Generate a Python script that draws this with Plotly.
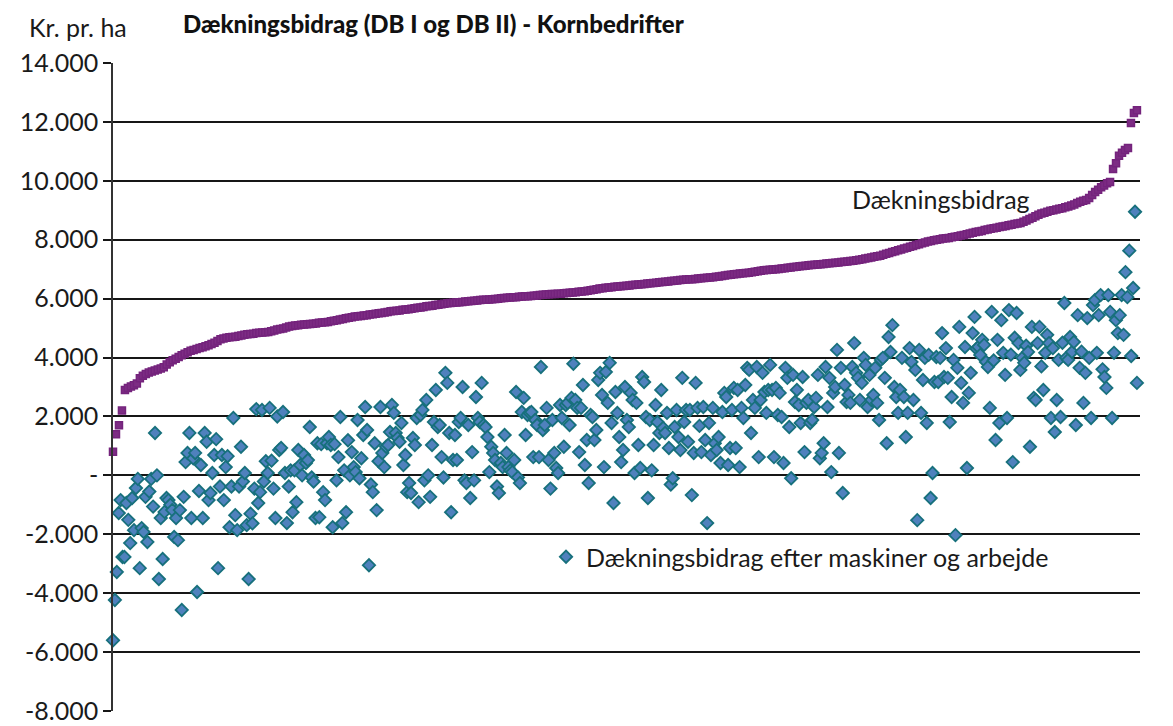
import plotly.graph_objects as go

# Y-axis ticks (kr. pr. ha)
tick_vals = [-8000, -6000, -4000, -2000, 0, 2000, 4000, 6000, 8000, 10000, 12000, 14000]
tick_text = ["-8.000", "-6.000", "-4.000", "-2.000", "-", "2.000", "4.000", "6.000",
             "8.000", "10.000", "12.000", "14.000"]

# Dækningsbidrag (DB I), farms sorted ascending
db1 = [800, 1400, 1700, 2200, 2900, 2970, 3020, 3060, 3120, 3300, 3380,
       3440, 3490, 3530, 3560, 3590, 3630, 3670, 3760, 3840, 3910,
       3960, 4020, 4080, 4130, 4180, 4230, 4260, 4290, 4320, 4350,
       4380, 4420, 4460, 4500, 4560, 4620, 4650, 4670, 4690, 4700,
       4710, 4730, 4750, 4770, 4790, 4800, 4810, 4830, 4840, 4850,
       4860, 4870, 4890, 4920, 4950, 4970, 4990, 5020, 5050, 5070,
       5090, 5100, 5110, 5120, 5130, 5140, 5150, 5160, 5180, 5190,
       5200, 5210, 5230, 5250, 5270, 5290, 5310, 5330, 5350, 5370,
       5390, 5400, 5410, 5430, 5440, 5460, 5470, 5490, 5500, 5510,
       5530, 5550, 5570, 5580, 5590, 5600, 5620, 5630, 5640, 5660,
       5670, 5690, 5700, 5720, 5740, 5750, 5760, 5780, 5790, 5810,
       5830, 5840, 5850, 5860, 5870, 5880, 5890, 5900, 5910, 5920,
       5930, 5940, 5950, 5960, 5960, 5970, 5980, 5990, 6000, 6010,
       6020, 6030, 6035, 6045, 6050, 6060, 6070, 6080, 6085, 6090,
       6100, 6110, 6120, 6130, 6140, 6150, 6155, 6160, 6165, 6170,
       6180, 6190, 6200, 6210, 6220, 6230, 6240, 6255, 6270, 6285,
       6300, 6320, 6340, 6355, 6370, 6380, 6390, 6400, 6410, 6420,
       6430, 6440, 6450, 6460, 6470, 6480, 6490, 6500, 6510, 6520,
       6530, 6540, 6555, 6565, 6575, 6585, 6595, 6605, 6615, 6630,
       6640, 6650, 6655, 6660, 6670, 6680, 6690, 6700, 6710, 6720,
       6730, 6740, 6755, 6770, 6785, 6800, 6815, 6830, 6840, 6850,
       6860, 6870, 6880, 6900, 6915, 6930, 6950, 6960, 6970, 6980,
       6990, 7000, 7010, 7020, 7030, 7045, 7060, 7070, 7085, 7100,
       7110, 7120, 7130, 7140, 7150, 7160, 7170, 7180, 7190, 7200,
       7210, 7220, 7230, 7240, 7250, 7265, 7280, 7290, 7300, 7320,
       7340, 7360, 7380, 7400, 7420, 7440, 7460, 7490, 7520, 7550,
       7580, 7610, 7640, 7670, 7700, 7730, 7760, 7790, 7820, 7850,
       7880, 7910, 7940, 7960, 7980, 8000, 8020, 8040, 8050, 8060,
       8080, 8100, 8120, 8140, 8160, 8190, 8210, 8240, 8260, 8280,
       8300, 8330, 8350, 8370, 8390, 8410, 8430, 8450, 8470, 8490,
       8510, 8530, 8550, 8570, 8610, 8650, 8700, 8750, 8800, 8850,
       8890, 8920, 8950, 8980, 9000, 9030, 9050, 9070, 9100, 9130,
       9160, 9200, 9250, 9290, 9320, 9350, 9420, 9520, 9620, 9700,
       9780, 9840, 9920, 9960, 10400, 10600, 10850, 10950, 11050, 11110,
       11960, 12300, 12400]

# Dækningsbidrag efter maskiner og arbejde (DB II), same farm order
db2 = [-5600, -4230, -3280, -1280, -840, -2770, -2770, -940, -1510, -2300,
       -770, -1860, -430, -120, -3150, -1790, -1920, -730, -2260, -550,
       -120, -1060, 1440, 0, -3520, -1450, -2840, -1240, -770, -840,
       -1000, -1180, -2090, -1450, -2200, -1180, -4570, -730, 450, 760, 1440,
       -1450, 580, 760, -3960, -530, 350, -1450, 1440, 1140, -840,
       -600, 80, 690, 1230, -3150, -380, 690, -840, 280, 650, -1760,
       -380, 1950, -1350, -1860, -380, 970, -210, 80, -1690, -3520,
       -1300, -1630, -450, 2250, -940, -570, 2220, -210, 480, 80, 2290,
       500, -450, -1450, 2000, 860,
       930, 2150, 80, -1620, -380, 170, -1250, 170, -910, 860,
       350, 0, 690, 420, 520, 1640, -70, -210, -1450, 1090,
       -1420, 1060, -570, -840, 1090, 1300, 1030, -1760, 1060, -170,
       620, 1980, -1620, 170, -1250, 1190, 0, 790, 280, 110,
       1880, -100, 580, 1370, 2320, 1540, -3050, -310, -570, 1090,
       -1180, 480, 2320, 760, 280, 970, 1030, 1470, 2390, 2120,
       1440, 1270, 1140, 1780, 350, 690, -570, -260, -600, 1270,
       1030, 1950, -910, 2050, 2220, -170, 2560, 0, -730, 1030,
       1810, 2900, 1640, 1710, 620, -70, 3480, 3140, 1440, -1250, 520,
       1370, 520, 1810, 1950, 3000, -170, -260, 1710, -770, 790,
       -170, 2660, 1950, 1810, 3140, 1710, 1640, 1300, 110, 970,
       760, 520, -380, -600, 420, 280, 1370, 760, 280, 170,
       110, 520, 2830, -70, -260, 2150, 2630, 1370, 2050, 2120,
       2150, 620, 1880, 1710, 620, 3680, 1540, 1710, 2290, 520,
       -450, 1880, 760, 250, 80, 2390, 1950, 970, 2390, 2460,
       1710, 2630, 3790, 2560, 2290, 790, 2290, 3070, 350, 1200,
       -260, 2050, 1980, 1200, 1540, 3240, 3480, 2730, 280, 3510,
       2460, 3820, 1780, -940, 2830, 2120, 1300, 450, 860, 3000, 1880, 1640,
       2800, 2560, 80, 2460, 1030, 250, 3340, 3170, 1980, -770,
       1880, 170, 1030, 2390, 1810, 1440, 2900, 1610, 1440, 2120,
       930, -310, -100, 1640, 2220, 1300, 860, 3310, 1810, 2220,
       1140, 2220, -670, 760, 3140, 2290, 1680, 790, 2320, 1200,
       -1620, 1780, 690, 2290, 1090, 860, 1300, 420, 2150, 2800,
       2660, 350, 930, 2220, 2970, 930, 2900, 280, 2290, 1950,
       3070, 3650, 3580, 1440, 2560, 2290, 3680, 620, 2560, 3480,
       2830, 2120, 2900, 3750, 2900, 620, 2970, 2050, 2800, 1980,
       420, 3650, 3310, 1640, -100, 3410, 2490,
       2900, 2390, 1780, 3340, 790, 2460, 2560, 1780, 1880, 2320,
       2630, 3410, 580, 760, 1090, 3680, 2320, 3310, 110, 2800,
       3000, 4260, 760, 3650, -600, 3070, 2490, 2730, 2460, 3680,
       4490, 3480, 3310, 2560, 3140, 3990, 3750, 2320, 3410, 2560,
       2730, 3650, 2460, 1880, 3920, 3990, 3310, 1090, 4700, 4190,
       5100, 3000, 2660, 2120, 2900, 3990, 2660, 1300, 2120, 4320,
       3850, 2560, 3580, -1520, 4260, 2120, 3240, 3990, 1780, 4090,
       -770, 80, 3170, 4020, 3170, 3990, 4830, 3340, 4320, 3310,
       1810, 2660, 3920, -2030, 3650, 5040,
       3140, 2460, 4360, 250, 2800, 3480, 4830, 5380, 4300, 4360, 4090,
       4600, 4430, 3850, 3680, 2290, 5550, 3900, 1200, 4600, 1780,
       5270, 4160, 3410, 1950, 5610, 4100, 450, 4670, 5510, 4490,
       3580, 3990, 3820, 4400, 4190, 970, 5040, 2630, 2560, 4490,
       5040, 3700, 2900, 4160, 4770, 4490, 1950, 4320, 1470, 2560,
       3920, 1980, 4500, 5850, 3990, 3920, 4700, 4190, 4530, 1710,
       5440, 3650, 4200, 2460, 3480, 5340, 3990, 1950, 5780, 5950,
       4160, 5440, 6120, 3600, 3340, 2970, 6120, 5550, 1950, 4160,
       5270, 4830, 5440, 6120, 4770, 6900, 6050, 7630, 4050, 6360,
       8950, 3140]

# farm position on a 0..1 rank scale for each series
x1 = [i / (len(db1) - 1) for i in range(len(db1))]
x2 = [i / (len(db2) - 1) for i in range(len(db2))]

FONT = "Lato, 'Open Sans', sans-serif"
TXT = "#1a1a1a"
FS = 25

fig = go.Figure()
fig.add_trace(go.Scatter(
    x=x2, y=db2, mode="markers", name="Dækningsbidrag efter maskiner og arbejde",
    marker=dict(symbol="diamond", size=9.5, color="#4f81bd",
                line=dict(color="#17707c", width=1.8)),
    cliponaxis=False, showlegend=True))
fig.add_trace(go.Scatter(
    x=x1, y=db1, mode="markers", name="Dækningsbidrag",
    marker=dict(symbol="square", size=7, color="#7d2c84",
                line=dict(color="#74237c", width=1.5)),
    cliponaxis=False, showlegend=False))

fig.update_layout(
    width=1173, height=726,
    paper_bgcolor="white", plot_bgcolor="white",
    margin=dict(l=113, r=33, t=63, b=15, autoexpand=False),
    font=dict(family=FONT, size=FS, color=TXT),
    title=dict(text="Dækningsbidrag (DB I og DB II) - Kornbedrifter",
               x=183 / 1173, xanchor="left", xref="container",
               y=1 - 25 / 726, yanchor="middle", yref="container",
               font=dict(family=FONT, size=24, color="#111111", weight=900)),
    xaxis=dict(range=[0, 1.003], showgrid=False, zeroline=False, showline=False,
               showticklabels=False, ticks="", automargin=False),
    yaxis=dict(range=[-8000, 14000], tickvals=tick_vals, ticktext=tick_text,
               showgrid=True, gridcolor="#161616", gridwidth=1.5,
               zeroline=False, showline=True, linecolor="#333333", linewidth=1.5,
               ticks="outside", ticklen=8, tickcolor="#161616", tickwidth=1.5,
               automargin=False,
               tickfont=dict(family=FONT, size=FS, color=TXT)),
    legend=dict(x=(546 - 113) / 1027, xanchor="left", y=(711 - 557) / 648,
                yanchor="middle", bgcolor="rgba(0,0,0,0)",
                font=dict(family=FONT, size=FS, color=TXT)),
    annotations=[
        dict(text="Kr. pr. ha", xref="paper", yref="paper",
             x=(27 - 113) / 1027, y=(711 - 27) / 648, xanchor="left", yanchor="middle",
             showarrow=False, font=dict(family=FONT, size=FS, color=TXT)),
        dict(text="Dækningsbidrag", xref="paper", yref="paper",
             x=(850 - 113) / 1027, y=(711 - 199) / 648, xanchor="left", yanchor="middle",
             showarrow=False, font=dict(family=FONT, size=FS, color=TXT)),
    ],
)

fig.write_html("out.html", config={"displayModeBar": False},
               post_script="document.body.style.margin='0';document.body.style.overflow='hidden';")
